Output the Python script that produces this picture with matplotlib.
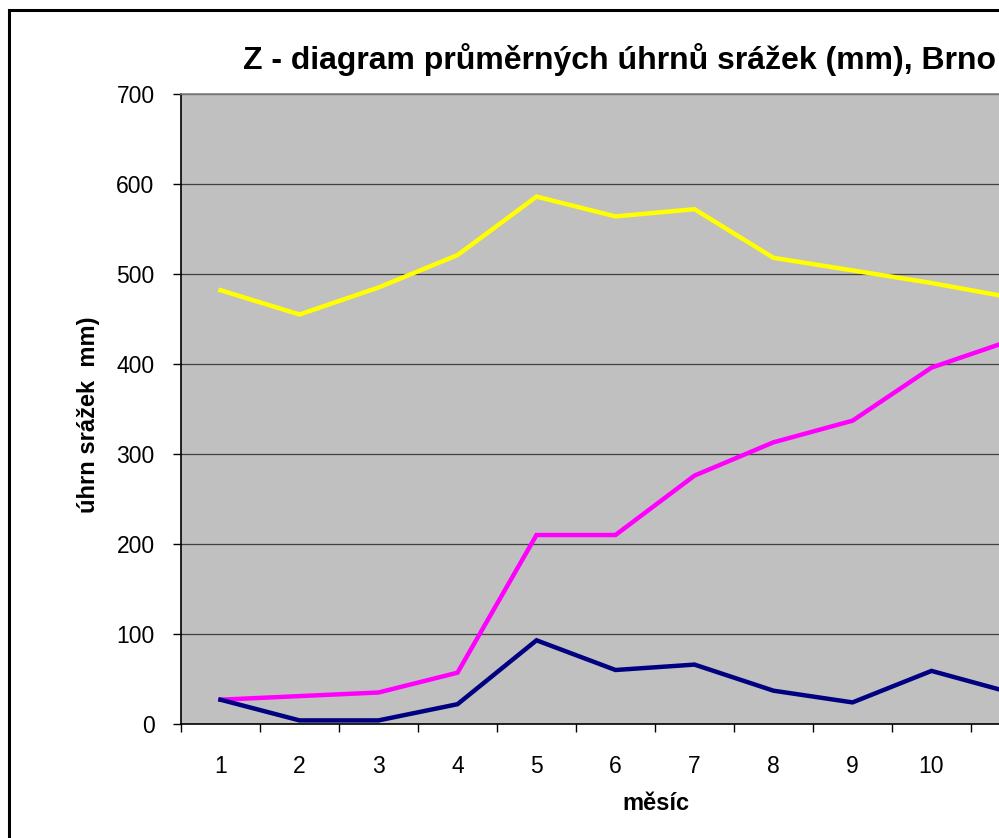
import matplotlib
matplotlib.use("Agg")
import matplotlib.pyplot as plt
from matplotlib.patches import Rectangle

months = [1, 2, 3, 4, 5, 6, 7, 8, 9, 10, 11, 12]
month_labels = ["1", "2", "3", "4", "5", "6", "7", "8", "9", "10", "11", "12"]
monthly = [27, 4, 4, 22, 93, 60, 66, 37, 24, 59, 35, 30]
cumulative = [27, 31, 35, 57, 210, 210, 276, 313, 337, 396, 426, 455]
moving_total = [482, 455, 485, 521, 586, 564, 572, 518, 504, 490, 474, 468]
y_ticks = [0, 100, 200, 300, 400, 500, 600, 700]

plt.rcParams['font.family'] = ['Liberation Sans', 'DejaVu Sans']

W, H = 999, 838
fig = plt.figure(figsize=(W / 100, H / 100), dpi=100)
fig.patch.set_facecolor("white")

# outer frame
fig.patches.append(Rectangle((9 / W, -0.1), 1.2, (H - 10) / H + 0.1,
                             transform=fig.transFigure, fill=False,
                             edgecolor="black", linewidth=2.2))

left, right, top, bottom = 181, 1129, 94, 724
ax = fig.add_axes([left / W, (H - bottom) / H, (right - left) / W, (bottom - top) / H])
ax.set_facecolor("#C0C0C0")

ax.plot(months, moving_total, color="#FFFF00", lw=3.2, solid_joinstyle="miter", zorder=3)
ax.plot(months, cumulative, color="#FF00FF", lw=3.2, solid_joinstyle="miter", zorder=3)
ax.plot(months, monthly, color="#000080", lw=3.2, solid_joinstyle="miter", zorder=3)

ax.set_xlim(0.5, 12.5)
ax.set_ylim(0, 700)
ax.set_yticks(y_ticks)
ax.set_xticks(months)
ax.set_xticklabels(month_labels)
ax.set_xticks([m + 0.5 for m in [0] + months], minor=True)
ax.tick_params(axis="x", which="major", length=0, pad=22, labelsize=16.5)
ax.tick_params(axis="x", which="minor", length=6, width=1, color="black", direction="out")
ax.tick_params(axis="y", length=6, width=1, pad=13, labelsize=16.5, direction="out")

ax.grid(axis="y", color="#404040", lw=0.9, zorder=1)
ax.set_axisbelow(True)
ax.spines["right"].set_visible(False)
ax.spines["top"].set_color("#808080")
ax.spines["top"].set_linewidth(1.2)
ax.spines["left"].set_linewidth(1.2)
ax.spines["bottom"].set_linewidth(1.2)

fig.text(243 / W, 1 - 60 / H, "Z - diagram průměrných úhrnů srážek (mm), Brno",
         ha="left", va="center", fontsize=23, fontweight="bold")
fig.text(88 / W, 1 - 415 / H, "úhrn srážek  mm)", rotation=90, ha="center", va="center",
         fontsize=17, fontweight="bold")
fig.text(656 / W, 1 - 803 / H, "měsíc", ha="center", va="center",
         fontsize=17, fontweight="bold")

fig.savefig("out.png", dpi=100)
